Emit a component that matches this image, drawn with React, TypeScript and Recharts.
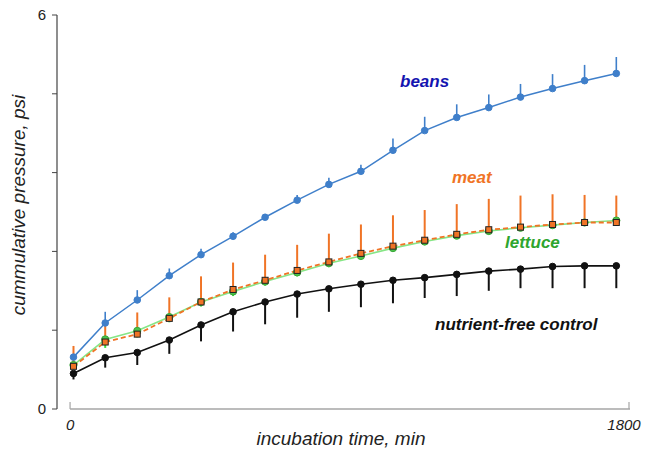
import React from 'react';
import { ComposedChart, Line, XAxis, YAxis, ErrorBar, ReferenceLine } from 'recharts';

const times = [11, 113, 216, 319, 421, 524, 627, 730, 832, 935, 1038, 1140, 1243, 1346, 1448, 1551, 1654, 1756];
const beans = [0.79, 1.31, 1.66, 2.03, 2.35, 2.63, 2.92, 3.18, 3.42, 3.62, 3.94, 4.24, 4.44, 4.59, 4.75, 4.88, 5.0, 5.11];
const beansErr = [0.04, 0.17, 0.15, 0.11, 0.09, 0.06, 0.05, 0.08, 0.1, 0.1, 0.18, 0.21, 0.2, 0.2, 0.2, 0.22, 0.24, 0.25];
const meat = [0.65, 1.02, 1.14, 1.38, 1.63, 1.82, 1.96, 2.11, 2.24, 2.37, 2.48, 2.57, 2.66, 2.73, 2.77, 2.81, 2.84, 2.84];
const meatErr = [0.31, 0.25, 0.33, 0.32, 0.39, 0.41, 0.39, 0.39, 0.43, 0.44, 0.47, 0.46, 0.46, 0.47, 0.48, 0.46, 0.42, 0.41];
const lettuce = [0.67, 1.06, 1.19, 1.4, 1.63, 1.79, 1.94, 2.08, 2.22, 2.33, 2.45, 2.55, 2.64, 2.71, 2.76, 2.8, 2.84, 2.87];
const lettuceErr = [0.06, 0.13, 0.1, 0.08, 0.07, 0.07, 0.06, 0.06, 0.06, 0.06, 0.05, 0.05, 0.05, 0.05, 0.05, 0.05, 0.05, 0.05];
const control = [0.54, 0.78, 0.86, 1.05, 1.28, 1.48, 1.63, 1.75, 1.83, 1.9, 1.96, 2.0, 2.05, 2.1, 2.13, 2.17, 2.18, 2.18];
const controlErr = [0.09, 0.15, 0.19, 0.21, 0.25, 0.3, 0.34, 0.36, 0.35, 0.35, 0.35, 0.31, 0.33, 0.3, 0.29, 0.33, 0.34, 0.34];

const yTicks = [0, 1.2, 2.4, 3.6, 4.8, 6];
const xTicks = [0, 1800];
const xTitle = 'incubation time, min';
const yTitle = 'cummulative pressure, psi';

const data = times.map((t, i) => ({
  t,
  beans: beans[i],
  beansErr: [0, beansErr[i]],
  meat: meat[i],
  meatErr: [0, meatErr[i]],
  lettuce: lettuce[i],
  lettuceErr: [lettuceErr[i], 0],
  control: control[i],
  controlErr: [controlErr[i], 0],
}));

const FONT = '"Liberation Sans", Arial, sans-serif';
const BLUE = '#3f7fca';
const ORANGE = '#f07426';
const GREEN_LINE = '#86e686';
const GREEN = '#4cc24c';
const BLACK = '#111111';

const XTick = (props: any) => {
  const { x, y, payload } = props;
  const isEnd = payload.value === 1800;
  return (
    <g>
      <line x1={x} x2={x} y1={y} y2={y - 7} stroke="#a6a6a6" strokeWidth={1.2} />
      <text
        x={isEnd ? x - 5 : x}
        y={y + 21}
        textAnchor="middle"
        fontStyle="italic"
        fontSize={15}
        fontFamily={FONT}
        fill="#222"
      >
        {payload.value}
      </text>
    </g>
  );
};

const MeatDot = (props: any) => {
  const { cx, cy, index } = props;
  if (cx == null || cy == null) return <g key={`md${index}`} />;
  return (
    <rect
      key={`md${index}`}
      x={cx - 3}
      y={cy - 3}
      width={6}
      height={6}
      fill={ORANGE}
      stroke="#222"
      strokeWidth={1}
    />
  );
};

export default function App() {
  return (
    <div style={{ position: 'absolute', left: 0, top: 0, width: 645, height: 453, background: '#fff' }}>
      <ComposedChart
        width={645}
        height={453}
        data={data}
        margin={{ top: 15, right: 15, bottom: 0, left: 0 }}
        style={{ fontFamily: FONT }}
      >
        <XAxis
          dataKey="t"
          type="number"
          domain={[-42, 1800]}
          ticks={xTicks}
          axisLine={false}
          tickLine={false}
          tickSize={0}
          tickMargin={0}
          height={44}
          tick={<XTick />}
          allowDataOverflow
        />
        <YAxis
          type="number"
          domain={[0, 6]}
          ticks={yTicks}
          width={57}
          tickSize={5}
          tickMargin={6}
          axisLine={{ stroke: '#444', strokeWidth: 1.2 }}
          tickLine={{ stroke: '#444', strokeWidth: 1 }}
          tick={{ fill: '#222', fontSize: 15, fontFamily: FONT }}
          tickFormatter={(v: number) => (v === 0 || v === 6 ? String(v) : '')}
          allowDataOverflow
        />
        <ReferenceLine
          segment={[{ x: 0, y: 0 }, { x: 1800, y: 0 }]}
          stroke="#a6a6a6"
          strokeWidth={1.5}
          ifOverflow="visible"
        />
        <Line
          dataKey="control"
          stroke={BLACK}
          strokeWidth={1.6}
          dot={{ r: 3.3, fill: BLACK, stroke: BLACK, strokeWidth: 1 }}
          isAnimationActive={false}
        >
          <ErrorBar dataKey="controlErr" direction="y" width={0} stroke={BLACK} strokeWidth={2} isAnimationActive={false} />
        </Line>
        <Line
          dataKey="lettuce"
          stroke={GREEN_LINE}
          strokeWidth={1.6}
          dot={{ r: 3.6, fill: GREEN, stroke: '#38a838', strokeWidth: 1 }}
          isAnimationActive={false}
        >
          <ErrorBar dataKey="lettuceErr" direction="y" width={0} stroke="#3be03b" strokeWidth={2} isAnimationActive={false} />
        </Line>
        <Line
          dataKey="meat"
          stroke={ORANGE}
          strokeWidth={1.8}
          strokeDasharray="5 3"
          dot={MeatDot}
          isAnimationActive={false}
        >
          <ErrorBar dataKey="meatErr" direction="y" width={0} stroke={ORANGE} strokeWidth={2} isAnimationActive={false} />
        </Line>
        <Line
          dataKey="beans"
          stroke={BLUE}
          strokeWidth={1.5}
          dot={{ r: 3.3, fill: BLUE, stroke: BLUE, strokeWidth: 1 }}
          isAnimationActive={false}
        >
          <ErrorBar dataKey="beansErr" direction="y" width={0} stroke={BLUE} strokeWidth={1.6} isAnimationActive={false} />
        </Line>
      </ComposedChart>
      <svg
        width={645}
        height={453}
        style={{ position: 'absolute', left: 0, top: 0, pointerEvents: 'none' }}
      >
        <g fontFamily={FONT} fontWeight="bold" fontStyle="italic" fontSize={17}>
          <text x={400} y={87} fill="#1414b0">beans</text>
          <text x={452} y={183} fill={ORANGE}>meat</text>
          <text x={505} y={248} fill="#2ea52e">lettuce</text>
          <text x={435} y={330} fill="#111">nutrient-free control</text>
        </g>
        <text
          x={341}
          y={445}
          textAnchor="middle"
          fontFamily={FONT}
          fontStyle="italic"
          fontSize={19}
          fill="#222"
        >
          {xTitle}
        </text>
        <text
          x={25}
          y={205}
          textAnchor="middle"
          transform="rotate(-90 25 205)"
          fontFamily={FONT}
          fontStyle="italic"
          fontSize={19}
          fill="#222"
        >
          {yTitle}
        </text>
      </svg>
    </div>
  );
}
